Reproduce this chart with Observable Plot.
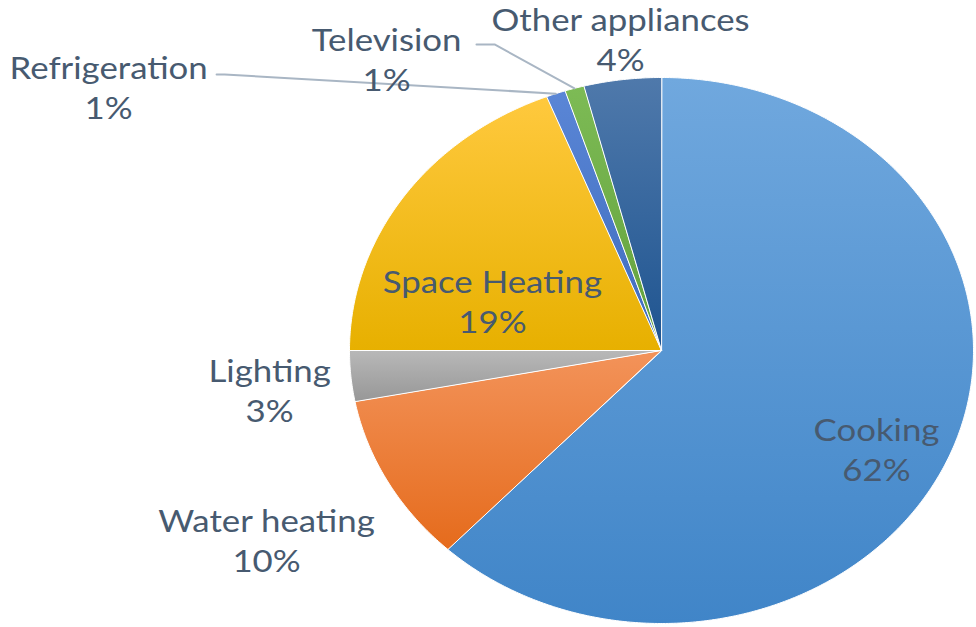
<!DOCTYPE html>
<html>
<head>
<meta charset="utf-8">
<script src="https://cdn.jsdelivr.net/npm/d3@7"></script>
<script src="https://cdn.jsdelivr.net/npm/@observablehq/plot@0.6"></script>
<style>
  html, body { margin: 0; padding: 0; background: #ffffff; }
  #chart { width: 976px; height: 627px; }
</style>
</head>
<body>
<div id="chart"></div>
<script>
// ---- data ----
const categories = ["Cooking", "Water heating", "Lighting", "Space Heating", "Refrigeration", "Television", "Other appliances"];
const shares = [62, 10, 3, 19, 1, 1, 4];

// ---- styles (gradient top / bottom per slice) ----
const colorTop = ["#70a8de", "#f3935a", "#b8b8b8", "#ffc93e", "#5a86d6", "#7dbb55", "#4f79ab"];
const colorBottom = ["#4085c8", "#e56b1c", "#979797", "#e7b000", "#3e6bbd", "#62a03c", "#1e5490"];
const textStretch = 1.16;

// ---- layout (unit-circle coordinates, drawn through the x/y scales) ----
const labelX = [0.689, -1.266, -1.256, -0.542, -1.772, -0.881, -0.131];
const labelY = [-0.359, -0.692, -0.143, 0.183, 0.967, 1.070, 1.143];
// leader lines: label-side points, ending at the slice's outer mid-angle
const leaderCats = ["Refrigeration", "Television"];
const leaderStart = [[[-1.426, 1.011], [-1.40, 1.011]], [[-0.593, 1.121], [-0.535, 1.121]]];

// ---- geometry ----
const total = d3.sum(shares);
const slices = [];
let acc = 0;
categories.forEach((c, i) => {
  const a0 = acc / total * 2 * Math.PI;
  acc += shares[i];
  const a1 = acc / total * 2 * Math.PI;
  slices.push({cat: c, i, a0, a1, mid: (a0 + a1) / 2});
});

function slicePoints(s) {
  const pts = [{x: 0, y: 0}];
  const n = Math.max(2, Math.ceil((s.a1 - s.a0) / (Math.PI / 360)));
  for (let k = 0; k <= n; k++) {
    const a = s.a0 + (s.a1 - s.a0) * k / n;
    pts.push({x: Math.sin(a), y: Math.cos(a)});
  }
  return pts;
}

const leaderData = [];
leaderCats.forEach((c, j) => {
  const s = slices.find(d => d.cat === c);
  leaderStart[j].forEach(p => leaderData.push({cat: c, x: p[0], y: p[1]}));
  leaderData.push({cat: c, x: Math.sin(s.mid), y: Math.cos(s.mid)});
});

const labels = categories.map((c, i) => ({cat: c, share: shares[i], x: labelX[i], y: labelY[i]}));

const marks = slices.map(s =>
  Plot.line(slicePoints(s), {
    x: "x", y: "y", curve: "linear-closed",
    fill: `url(#grad${s.i})`, stroke: "#ffffff", strokeWidth: 1
  })
);
marks.push(Plot.line(leaderData, {x: "x", y: "y", z: "cat", stroke: "#a9b6c4", strokeWidth: 2}));
marks.push(Plot.text(labels, {
  x: "x", y: "y", text: d => `${d.cat}\n${d.share}%`,
  fontSize: 30, lineHeight: 1.32, fill: "#475a70", fontFamily: "Lato", textAnchor: "middle"
}));

const svg = Plot.plot({
  width: 976,
  height: 627,
  margin: 0,
  x: {domain: [-1, 1], range: [349, 973], axis: null},
  y: {domain: [-1, 1], range: [623, 77], axis: null},
  style: {background: "#ffffff", fontFamily: "Lato"},
  marks
});

// gradient definitions for the slices
const defs = d3.select(svg).insert("defs", ":first-child");
categories.forEach((c, i) => {
  const g = defs.append("linearGradient").attr("id", `grad${i}`)
    .attr("x1", 0).attr("y1", 0).attr("x2", 0).attr("y2", 1);
  g.append("stop").attr("offset", "0%").attr("stop-color", colorTop[i]);
  g.append("stop").attr("offset", "100%").attr("stop-color", colorBottom[i]);
});

// widen the label text horizontally (the reference is drawn slightly stretched)
d3.select(svg).selectAll("text").each(function () {
  const tr = this.getAttribute("transform");
  if (tr && /translate/.test(tr)) {
    this.setAttribute("transform", `${tr} scale(${textStretch},1)`);
  } else {
    const x = +this.getAttribute("x") || 0, y = +this.getAttribute("y") || 0;
    this.removeAttribute("x"); this.removeAttribute("y");
    this.setAttribute("transform", `translate(${x},${y}) scale(${textStretch},1)`);
  }
});

document.getElementById("chart").appendChild(svg);
</script>
</body>
</html>
